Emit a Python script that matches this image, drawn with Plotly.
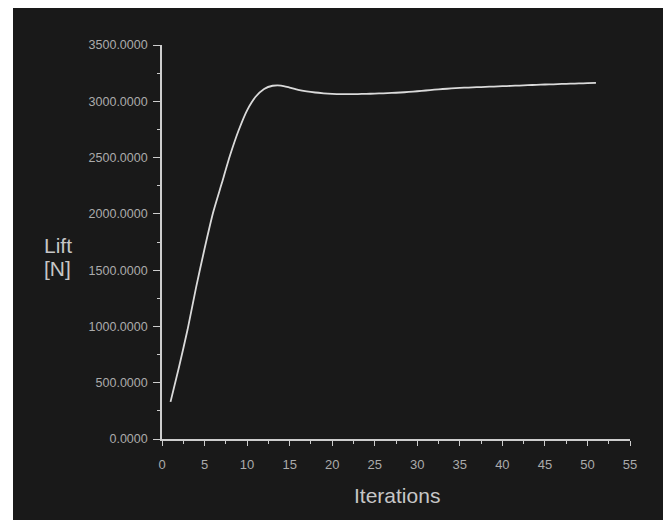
import plotly.graph_objects as go

# Lift convergence history
iterations = list(range(1, 52))
lift_n = [
    330, 640, 970, 1345, 1690, 2010, 2265, 2520, 2740, 2920,
    3040, 3110, 3138, 3140, 3122, 3102, 3088, 3078, 3071, 3066,
    3063, 3063, 3064, 3066, 3068, 3071, 3074, 3078, 3083, 3089,
    3096, 3103, 3109, 3114, 3119, 3122, 3125, 3128, 3131, 3134,
    3137, 3140, 3143, 3146, 3149, 3151, 3154, 3156, 3159, 3161,
    3164,
]
x_ticks = list(range(0, 60, 5))
y_ticks = list(range(0, 4000, 500))

W, H = 669, 520
ML, MR, MT, MB = 162, 39, 45, 81
PW, PH = W - ML - MR, H - MT - MB

BG = "#191919"
AXIS = "#cdcdcd"
TICKTXT = "#ababab"
TITLE = "#c6c6c6"
FONT = "Liberation Sans Narrow, Arial Narrow, Liberation Sans, sans-serif"

def px_to_paper_x(px):
    return (px - ML) / PW

def px_to_paper_y(py):
    return (H - MB - py) / PH

fig = go.Figure()
fig.add_trace(go.Scatter(
    x=iterations, y=lift_n, mode="lines",
    line=dict(color="#dadada", width=1.8, shape="spline", smoothing=0.6),
    hoverinfo="skip", showlegend=False,
))

# dark panel inside a thin white frame
fig.add_shape(type="rect", xref="paper", yref="paper", layer="below",
              x0=px_to_paper_x(13), x1=px_to_paper_x(663),
              y0=px_to_paper_y(521), y1=px_to_paper_y(8),
              fillcolor=BG, line=dict(width=0))

fig.add_annotation(text="Iterations", xref="paper", yref="paper",
                   x=px_to_paper_x(397), y=px_to_paper_y(495),
                   xanchor="center", yanchor="middle", showarrow=False,
                   font=dict(family=FONT, size=21, color=TITLE))
for label, ypx in (("Lift", 245), ("[N]", 268)):
    fig.add_annotation(text=label, xref="paper", yref="paper",
                       x=px_to_paper_x(42), y=px_to_paper_y(ypx),
                       xanchor="left", yanchor="middle", showarrow=False,
                       font=dict(family=FONT, size=21, color=TITLE))

fig.update_layout(
    width=W, height=H,
    margin=dict(l=ML, r=MR, t=MT, b=MB, pad=0),
    paper_bgcolor="white", plot_bgcolor="rgba(0,0,0,0)",
    font=dict(family=FONT, size=12, color=TICKTXT),
    xaxis=dict(
        range=[0, 55], tickvals=x_ticks, ticks="outside", ticklen=5,
        tickwidth=1.3, tickcolor=AXIS, showline=True, linecolor=AXIS,
        linewidth=1.6, showgrid=False, zeroline=False,
        ticklabelstandoff=8,
        minor=dict(ticks="outside", dtick=2.5, ticklen=3, tickwidth=1.2,
                   tickcolor=AXIS, showgrid=False),
        tickfont=dict(family=FONT, size=13, color=TICKTXT),
    ),
    yaxis=dict(
        range=[0, 3500], tickvals=y_ticks, tickformat=".4f",
        ticks="outside", ticklen=7, tickwidth=1.3, tickcolor=AXIS,
        showline=True, linecolor=AXIS, linewidth=1.6, showgrid=False,
        zeroline=False, ticklabelstandoff=3,
        minor=dict(ticks="outside", dtick=250, ticklen=3.5, tickwidth=1.2,
                   tickcolor=AXIS, showgrid=False),
        tickfont=dict(family=FONT, size=12.5, color=TICKTXT),
    ),
)

fig.write_html("out.html")
